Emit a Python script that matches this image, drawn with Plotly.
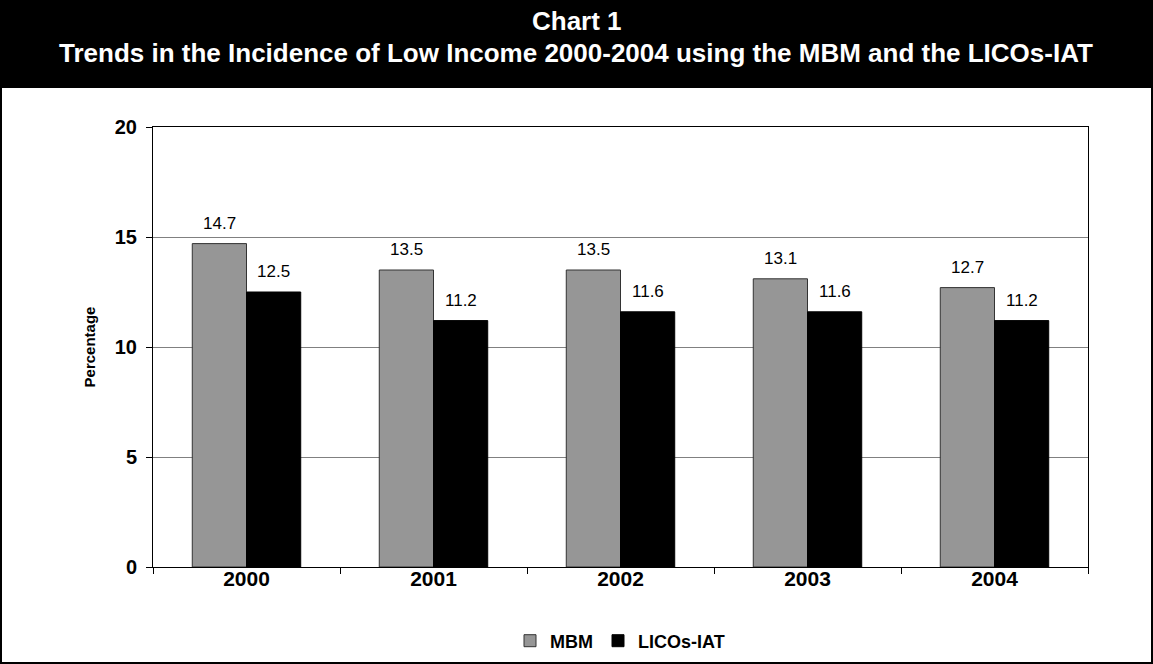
import plotly.graph_objects as go

years = ["2000", "2001", "2002", "2003", "2004"]
mbm = [14.7, 13.5, 13.5, 13.1, 12.7]
licos_iat = [12.5, 11.2, 11.6, 11.6, 11.2]

W, H = 1153, 664
ML, MR, MT, MB = 153, 65, 127, 97
PW, PH = W - ML - MR, H - MT - MB


def px_x(px):
    return (px - ML) / PW


def px_y(py):
    return (H - MB - py) / PH


FONT = "Liberation Sans, Arial, sans-serif"
BARGAP = 0.42
# pixel width of one bar inside a category slot
bar_px = PW / len(years) * (1 - BARGAP) / 2

fig = go.Figure()
fig.add_trace(go.Bar(
    x=years, y=mbm, name="MBM",
    marker=dict(color="#969696", line=dict(color="#333333", width=1)),
))
fig.add_trace(go.Bar(
    x=years, y=licos_iat, name="LICOs-IAT",
    marker=dict(color="#000000", line=dict(color="#000000", width=1)),
))

shapes = [
    # header band
    dict(type="rect", xref="paper", yref="paper", layer="below",
         x0=px_x(0), x1=px_x(W), y0=px_y(88), y1=px_y(0),
         fillcolor="black", line=dict(width=0)),
    # outer frame
    dict(type="rect", xref="paper", yref="paper",
         x0=px_x(1), x1=px_x(W - 1), y0=px_y(H - 1), y1=px_y(1),
         line=dict(color="black", width=2)),
]

annotations = [
    dict(text="<b>Chart 1</b>", xref="paper", yref="paper",
         x=px_x(577), y=px_y(21), showarrow=False,
         font=dict(family=FONT, size=26, color="white"),
         xanchor="center", yanchor="middle"),
    dict(text="<b>Trends in the Incidence of Low Income 2000-2004 using the MBM and the LICOs-IAT</b>",
         xref="paper", yref="paper", x=px_x(576), y=px_y(53), showarrow=False,
         font=dict(family=FONT, size=26, color="white"),
         xanchor="center", yanchor="middle"),
]

# value labels above each bar
for series, shift in ((mbm, -bar_px / 2), (licos_iat, bar_px / 2)):
    for i, v in enumerate(series):
        annotations.append(dict(
            x=i, y=v, xref="x", yref="y", text=f"{v:.1f}", showarrow=False,
            xshift=shift, yshift=9, xanchor="center", yanchor="bottom",
            font=dict(family=FONT, size=17, color="black"),
        ))

fig.update_layout(
    width=W, height=H,
    margin=dict(l=ML, r=MR, t=MT, b=MB, autoexpand=False),
    paper_bgcolor="white", plot_bgcolor="white",
    barmode="group", bargap=BARGAP, bargroupgap=0,
    font=dict(family=FONT, color="black"),
    shapes=shapes, annotations=annotations,
    showlegend=True,
    legend=dict(orientation="h", x=px_x(620), y=px_y(641),
                xanchor="center", yanchor="middle",
                font=dict(family=FONT, size=18, color="black", weight="bold"),
                itemwidth=30, traceorder="normal"),
    xaxis=dict(
        type="category", categoryorder="array", categoryarray=years,
        tickfont=dict(family=FONT, size=21, color="black", weight="bold"),
        showline=True, linecolor="black", linewidth=1, mirror=True,
        ticks="outside", ticklen=6, tickcolor="black", tickangle=0,
        tickson="boundaries", showgrid=False, ticklabelstandoff=-7,
    ),
    yaxis=dict(
        range=[0, 20], tickvals=[0, 5, 10, 15, 20],
        tickfont=dict(family=FONT, size=20, color="black", weight="bold"),
        showline=True, linecolor="black", linewidth=1, mirror=True,
        ticks="outside", ticklen=6, tickcolor="black", ticklabelstandoff=5,
        showgrid=True, gridcolor="#808080", gridwidth=1,
        title=dict(text="Percentage",
                   font=dict(family=FONT, size=15, color="black", weight="bold"),
                   standoff=15),
        zeroline=False,
    ),
)

fig.write_html("out.html")
